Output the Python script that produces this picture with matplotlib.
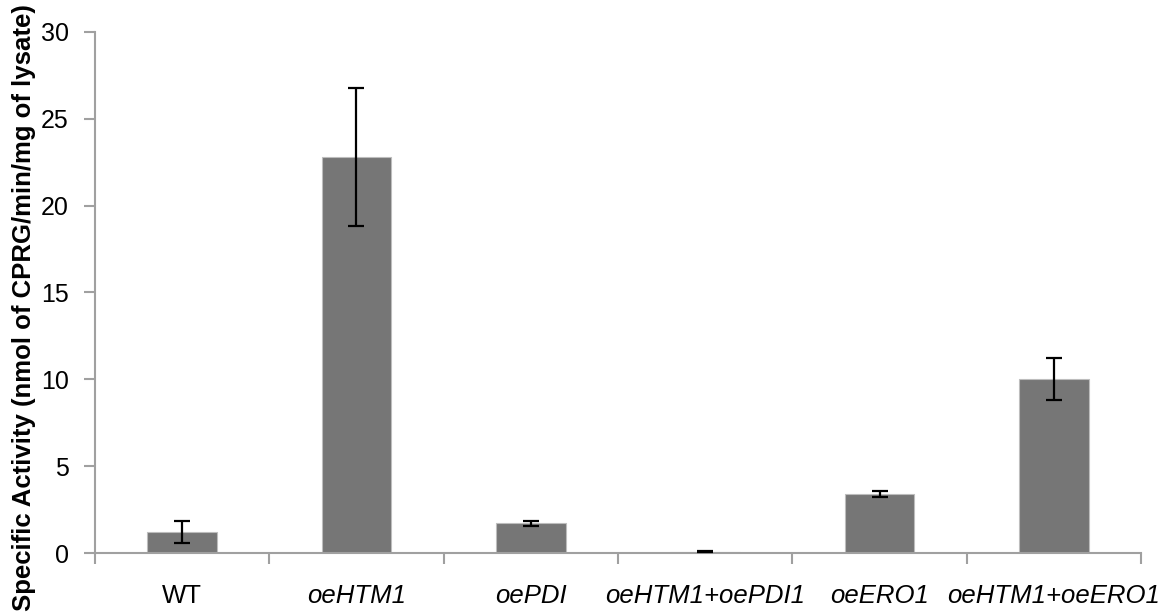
import matplotlib
matplotlib.use("Agg")
import matplotlib.pyplot as plt

categories = ["WT", "oeHTM1", "oePDI", "oeHTM1+oePDI1", "oeERO1", "oeHTM1+oeERO1"]
values = [1.23, 22.8, 1.71, 0.08, 3.41, 10.0]
errors = [0.63, 4.0, 0.13, 0.03, 0.17, 1.2]
yticks = [0, 5, 10, 15, 20, 25, 30]
italic = [False, True, True, True, True, True]

plt.rcParams['font.family'] = ['Liberation Sans', 'DejaVu Sans']

fig = plt.figure(figsize=(11.61, 6.15), dpi=100)
ax = fig.add_axes([0.0818, 0.1008, 0.9010, 0.8472])

x = list(range(len(categories)))
ax.bar(x, values, width=0.40, color="#767676", edgecolor="#bdbdbd", linewidth=0.8, zorder=2)
ax.errorbar(x, values, yerr=errors, fmt="none", ecolor="black", elinewidth=1.6,
            capsize=6, capthick=1.6, zorder=3)

ax.set_xlim(-0.5, len(categories) - 0.5)
ax.set_ylim(0, 30)
ax.set_yticks(yticks)
ax.set_yticklabels([str(v) for v in yticks], fontsize=18)

ax.set_xticks([i + 0.5 for i in range(-1, len(categories))], minor=False)
ax.set_xticklabels([])
ax.set_xticks(x, minor=True)
ax.set_xticklabels(categories, minor=True, fontsize=18.5)
for lab, it in zip(ax.get_xticklabels(minor=True), italic):
    lab.set_style("italic" if it else "normal")
ax.tick_params(axis="x", which="minor", length=0, pad=22)
ax.tick_params(axis="x", which="major", length=8, color="#a0a0a0", width=1.5, direction="out")
ax.tick_params(axis="y", length=8, color="#a0a0a0", width=1.5, direction="out", pad=11)

for s in ["top", "right"]:
    ax.spines[s].set_visible(False)
for s in ["left", "bottom"]:
    ax.spines[s].set_color("#a0a0a0")
    ax.spines[s].set_linewidth(1.5)

fig.text(24 / 1161, 0.5, "Specific Activity (nmol of CPRG/min/mg of lysate)", fontsize=18.5,
         fontweight="bold", rotation=90, ha="center", va="center")

fig.savefig("out.png", dpi=100)
